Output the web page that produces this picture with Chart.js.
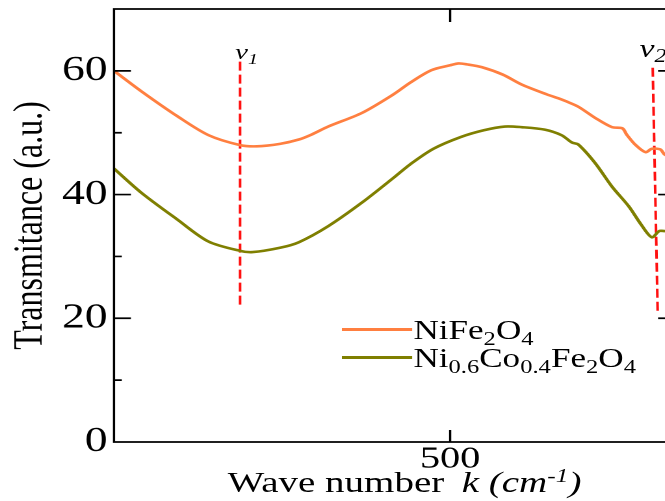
<!DOCTYPE html>
<html>
<head>
<meta charset="utf-8">
<script src="https://cdn.jsdelivr.net/npm/chart.js@4.4.1/dist/chart.umd.min.js"></script>
<style>
  html, body { margin: 0; padding: 0; background: #fff; overflow: hidden; }
  #wrap {
    position: relative;
    width: 530px;
    height: 501px;
    transform: scaleX(1.3);
    transform-origin: 0 0;
    font-family: "Liberation Serif", serif;
    color: #000;
  }
  #chart { position: absolute; left: 0; top: 0; }
  .txt { position: absolute; white-space: nowrap; }
  .sub { font-size: 0.7em; position: relative; top: 0.3em; }
  .sup { font-size: 0.65em; position: relative; top: -0.5em; }
  .swatch { position: absolute; height: 3px; width: 54px; }
</style>
</head>
<body>
<div id="wrap">
  <canvas id="chart" width="530" height="501"></canvas>

  <div class="txt" id="xTitle" style="left:175px; top:467px; font-size:30px; line-height:30px;">Wave number <i style="margin-left:6px">k</i> <i>(cm<span class="sup">-1</span>)</i></div>

  <div class="txt" style="left:181px; top:41px; font-size:22px; line-height:22px;"><i>v<span class="sub">1</span></i></div>
  <div class="txt" style="left:492px; top:36px; font-size:26px; line-height:26px;"><i>v<span class="sub">2</span></i></div>

  <div class="swatch" style="left:263px; top:328px; background:#ff7f40;"></div>
  <div class="txt" style="left:318px; top:317px; font-size:27px; line-height:27px;">NiFe<span class="sub">2</span>O<span class="sub">4</span></div>
  <div class="swatch" style="left:263px; top:356px; background:#7f7f00;"></div>
  <div class="txt" style="left:318px; top:345px; font-size:27px; line-height:27px;">Ni<span class="sub">0.6</span>Co<span class="sub">0.4</span>Fe<span class="sub">2</span>O<span class="sub">4</span></div>
</div>

<script>
// Wave numbers (cm-1) and transmittance
const niFeWave = [660, 647, 630, 615, 600, 592, 581, 572, 566, 558, 542, 527, 519, 509, 500, 496, 492, 485, 475, 466, 454, 448, 445, 439, 431, 423, 418, 416, 412, 407, 404, 400, 398, 395];
const niFeT    = [60.0, 56.7, 52.7, 49.6, 48.0, 47.8, 48.2, 48.9, 49.7, 51.0, 53.2, 56.2, 58.1, 60.1, 60.9, 61.2, 61.05, 60.6, 59.4, 57.8, 56.2, 55.5, 55.1, 54.2, 52.4, 50.9, 50.7, 49.7, 48.1, 46.85, 47.4, 47.3, 46.5, 46.0];

const niCoWave = [660, 647, 630, 615, 600, 594, 581, 572, 558, 542, 527, 519, 508, 495, 484, 474, 466, 455, 447, 442, 439, 431, 423, 415, 409, 404, 400.5, 398, 395];
const niCoT    = [44.2, 40.3, 36.0, 32.4, 30.9, 30.7, 31.4, 32.3, 34.9, 38.7, 42.7, 44.9, 47.4, 49.3, 50.4, 51.0, 50.9, 50.5, 49.6, 48.4, 48.1, 45.1, 41.3, 38.1, 35.1, 33.1, 34.1, 34.1, 34.0];

// band markers v1 and v2 (dashed)
const v1Wave = [600, 600];
const v1T    = [61.5, 22.2];
const v2Wave = [403.6, 401.2];
const v2T    = [60.5, 20.6];

const xTicks = [500];
const yTicks = [0, 20, 40, 60];
const yMinor = [10, 30, 50];

const pts = (xs, ys) => xs.map((v, i) => ({x: v, y: ys[i]}));

// box with inward ticks on all sides
const frame = {
    id: 'frame',
    afterDraw(chart) {
        const {ctx, chartArea: a, scales: {x, y}} = chart;
        ctx.save();
        ctx.strokeStyle = '#000';
        ctx.lineWidth = 1.7;
        ctx.beginPath();
        ctx.rect(a.left, a.top, a.right - a.left, a.bottom - a.top);
        yTicks.forEach(v => {
            const p = y.getPixelForValue(v);
            ctx.moveTo(a.left, p); ctx.lineTo(a.left + 13, p);
            ctx.moveTo(a.right, p); ctx.lineTo(a.right - 13, p);
        });
        yMinor.forEach(v => {
            const p = y.getPixelForValue(v);
            ctx.moveTo(a.left, p); ctx.lineTo(a.left + 6, p);
            ctx.moveTo(a.right, p); ctx.lineTo(a.right - 6, p);
        });
        xTicks.forEach(v => {
            const p = x.getPixelForValue(v);
            ctx.moveTo(p, a.bottom); ctx.lineTo(p, a.bottom - 12);
            ctx.moveTo(p, a.top); ctx.lineTo(p, a.top + 13);
        });
        ctx.stroke();
        ctx.restore();
    }
};

Chart.defaults.color = '#000';
Chart.defaults.font.family = '"Liberation Serif", serif';

new Chart(document.getElementById('chart'), {
    type: 'line',
    data: {
        datasets: [
            {
                label: 'NiFe2O4',
                data: pts(niFeWave, niFeT),
                borderColor: '#ff7f40',
                borderWidth: 2.6,
                pointRadius: 0,
                tension: 0.3
            },
            {
                label: 'Ni0.6Co0.4Fe2O4',
                data: pts(niCoWave, niCoT),
                borderColor: '#7f7f00',
                borderWidth: 2.6,
                pointRadius: 0,
                tension: 0.3
            },
            {
                label: 'v1',
                data: pts(v1Wave, v1T),
                borderColor: '#ff1010',
                borderWidth: 2,
                borderDash: [9, 4],
                pointRadius: 0
            },
            {
                label: 'v2',
                data: pts(v2Wave, v2T),
                borderColor: '#ff1010',
                borderWidth: 2,
                borderDash: [9, 4],
                pointRadius: 0
            }
        ]
    },
    options: {
        responsive: false,
        animation: false,
        devicePixelRatio: 2,
        layout: { padding: { top: 9, right: 10.8, left: 0, bottom: 0 } },
        plugins: {
            legend: { display: false },
            tooltip: { enabled: false }
        },
        scales: {
            x: {
                type: 'linear',
                reverse: true,
                min: 393,
                max: 660,
                grid: { display: false, drawTicks: false, tickLength: 0 },
                border: { display: false },
                afterBuildTicks: s => { s.ticks = xTicks.map(v => ({value: v})); },
                afterFit: s => {
                    s.height = 59;
                    s.paddingLeft = 0;
                    s.paddingRight = 0;
                },
                ticks: {
                    padding: -1,
                    maxRotation: 0,
                    font: { size: 31 }
                }
            },
            y: {
                min: 0,
                max: 70,
                grid: { display: false, drawTicks: false, tickLength: 0 },
                border: { display: false },
                afterBuildTicks: s => { s.ticks = yTicks.map(v => ({value: v})); },
                afterFit: s => {
                    s.width = 87.7;
                    s.paddingTop = 0;
                    s.paddingBottom = 0;
                },
                ticks: {
                    padding: 5,
                    font: { size: 35 }
                },
                title: {
                    display: true,
                    text: 'Transmitance (a.u.)',
                    font: { size: 32 },
                    padding: { top: 4.5, bottom: 0 }
                }
            }
        }
    },
    plugins: [frame]
});
</script>
</body>
</html>
